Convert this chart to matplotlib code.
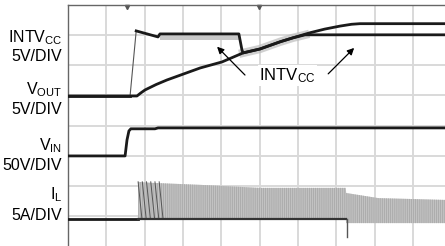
import matplotlib.pyplot as plt
import numpy as np

# scope traces, in screen divisions (x: 0..10 time, y: 0..8 bottom to top)
vout_t = [0, 1.80, 1.90, 2.01, 2.30, 2.58, 3.45, 4.02, 4.57, 5.01, 5.54, 5.87, 6.32, 6.70, 7.10, 7.40, 7.62, 9.84]
vout_v = [4.98, 4.98, 5.08, 5.18, 5.36, 5.51, 5.91, 6.11, 6.41, 6.54, 6.78, 6.91, 7.08, 7.20, 7.30, 7.36, 7.38, 7.38]

intvcc_t = [0, 1.62, 1.78, 2.35, 2.40, 4.46, 4.54, 4.57, 5.01, 5.54, 5.87, 6.19, 9.84]
intvcc_v = [4.98, 4.98, 7.14, 6.94, 7.04, 7.04, 6.51, 6.41, 6.54, 6.78, 6.91, 7.01, 7.01]

# grey noise band under INTVcc
fuzz_t = [2.40, 4.46]
fuzz_lo = [6.84, 6.84]
fuzz_hi = [7.04, 7.04]

vin_t = [0, 1.49, 1.54, 1.59, 1.64, 2.27, 2.35, 9.84]
vin_v = [2.99, 2.99, 3.52, 3.82, 3.89, 3.89, 3.92, 3.92]

# inductor current: switching envelope
il_base_t = [0, 1.83]
il_base_v = [0.90, 0.90]
il_t = [1.83, 2.13, 3.45, 5.01, 7.25, 7.26, 8.10, 9.84]
il_top = [2.13, 2.10, 2.03, 1.93, 1.93, 1.76, 1.59, 1.53]
il_bot = [0.90, 0.90, 0.90, 0.90, 0.90, 0.76, 0.76, 0.76]
il_spike_t = [7.27, 7.27]
il_spike_v = [0.90, 0.30]
# first few switching cycles, drawn darker
ramp_start = [1.83, 1.94, 2.05, 2.16, 2.27, 2.38]
ramp_end = [1.93, 2.04, 2.15, 2.26, 2.37, 2.48]

labels = [(r"INTV$_{\mathregular{CC}}$", 6.91), ("5V/DIV", 6.28),
          (r"V$_{\mathregular{OUT}}$", 5.18), ("5V/DIV", 4.52),
          (r"V$_{\mathregular{IN}}$", 3.32), ("50V/DIV", 2.66),
          (r"I$_{\mathregular{L}}$", 1.69), ("5A/DIV", 1.00)]

plt.rcParams["font.family"] = ["Liberation Sans"]
plt.rcParams["mathtext.default"] = "regular"
plt.rcParams["hatch.linewidth"] = 0.5

fig = plt.figure(figsize=(4.45, 2.46), dpi=100)
ax = fig.add_axes([68 / 445, 0, 377 / 445, 241 / 246])
ax.set_xlim(0, 9.84)
ax.set_ylim(0, 8)

for x in range(1, 10):
    ax.axvline(x, color="#d9d9d9", lw=1.4, zorder=0)
for y in range(1, 8):
    ax.axhline(y, color="#d9d9d9", lw=1.4, zorder=0)

for s in ["right", "bottom"]:
    ax.spines[s].set_visible(False)
for s in ["left", "top"]:
    ax.spines[s].set_color("#666666")
    ax.spines[s].set_linewidth(1.0)
ax.set_xticks([])
ax.set_yticks([])

# trigger markers on top edge
ax.plot([1.54, 4.99], [7.95, 7.95], "v", color="#555555", ms=3, clip_on=False)

# IL
ax.fill_between(il_t, il_bot, il_top, facecolor="#c2c2c2", edgecolor="#a4a4a4",
                hatch="||||||||", lw=0, zorder=1)
ax.plot(il_base_t, il_base_v, color="#1a1a1a", lw=2, zorder=3)
ax.plot(il_t[:5], il_bot[:5], color="#333333", lw=1.6, zorder=3)
ax.plot(il_spike_t, il_spike_v, color="#555555", lw=1, zorder=3)
for a, b in zip(ramp_start, ramp_end):
    ax.plot([a, b], [2.13, 0.90], color="#555555", lw=0.7, zorder=2)

# VIN
ax.plot(vin_t, vin_v, color="#1a1a1a", lw=2, zorder=3)

# INTVcc noise + traces
ax.fill_between(fuzz_t, fuzz_lo, fuzz_hi, color="#c8c8c8", lw=0, zorder=1)
ax.plot(intvcc_t[7:12], intvcc_v[7:12], color="#bdbdbd", lw=6, alpha=0.7, zorder=1)
ax.plot(intvcc_t[:2], intvcc_v[:2], color="#1a1a1a", lw=2, zorder=3)
ax.plot(intvcc_t[1:3], intvcc_v[1:3], color="#555555", lw=0.8, zorder=3)
ax.plot(intvcc_t[2:], intvcc_v[2:], color="#1a1a1a", lw=2, zorder=3)
ax.plot(vout_t, vout_v, color="#1a1a1a", lw=2, zorder=3)

# labels on the left
for txt, y in labels:
    ax.text(-0.16, y, txt, ha="right", va="center", fontsize=11.5, clip_on=False)

ax.text(5.72, 5.66, r"INTV$_{\mathregular{CC}}$", ha="center", va="center", fontsize=12,
        bbox=dict(facecolor="white", edgecolor="none", pad=1), zorder=4)
ax.annotate("", xy=(3.84, 6.68), xytext=(4.67, 5.61),
            arrowprops=dict(arrowstyle="-|>", color="black", lw=0.9, mutation_scale=10), zorder=5)
ax.annotate("", xy=(7.52, 6.64), xytext=(6.74, 5.65),
            arrowprops=dict(arrowstyle="-|>", color="black", lw=0.9, mutation_scale=10), zorder=5)

fig.savefig("out.png", dpi=100)
